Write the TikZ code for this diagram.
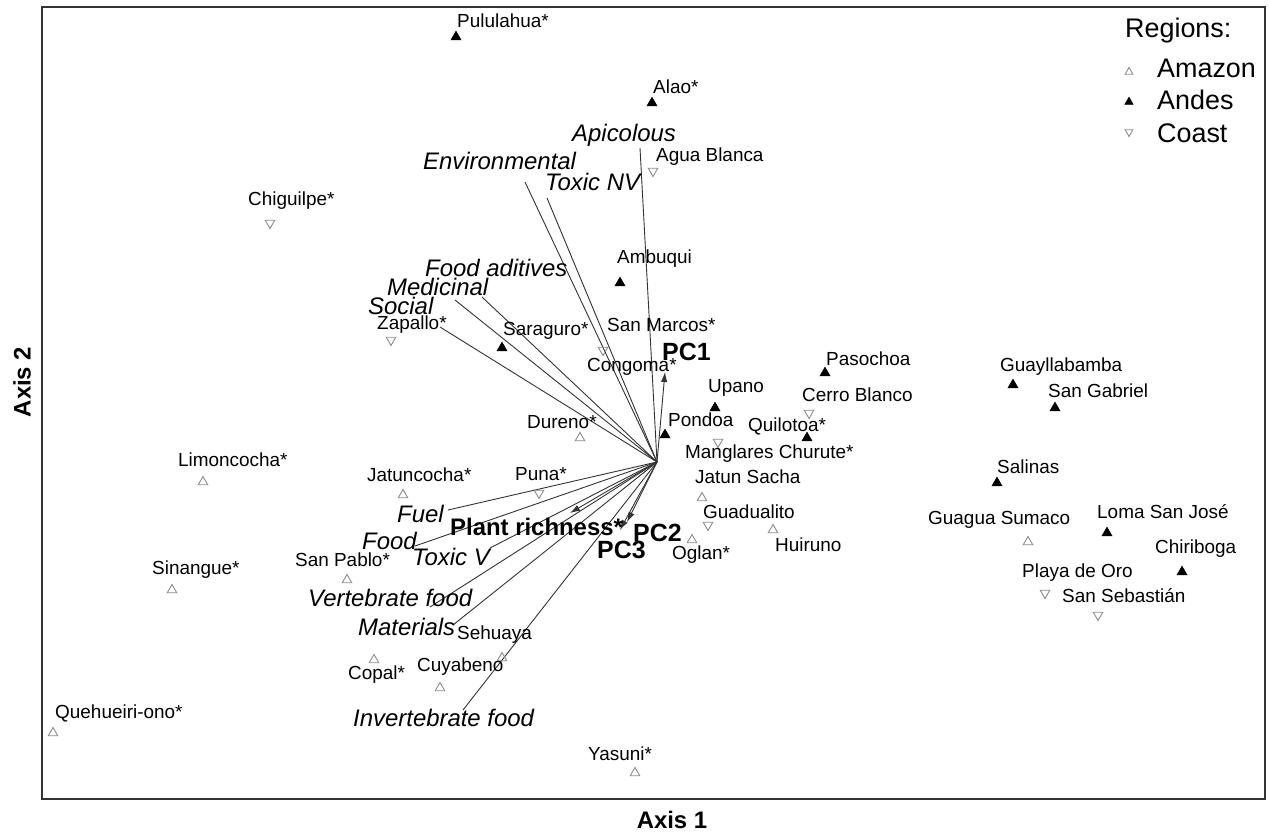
\documentclass[tikz,border=0pt]{standalone}
\usepackage{fontspec}
\setmainfont{Liberation Sans}
\usetikzlibrary{shapes.geometric,arrows.meta}
\tikzset{
    amazon/.style={regular polygon, regular polygon sides=3, draw=black!45, line width=0.9bp, minimum size=11bp, inner sep=0pt},
    andes/.style={amazon, draw=black, fill=black},
    coast/.style={amazon, shape border rotate=180},
    site/.style={anchor=west, inner sep=0pt, font=\fontsize{19}{19}\selectfont},
    var/.style={anchor=west, inner sep=0pt, font=\fontsize{24}{24}\selectfont\itshape},
    pcl/.style={anchor=west, inner sep=0pt, font=\fontsize{25}{25}\selectfont\bfseries},
    load/.style={draw=black!80, line width=0.9bp},
    vec/.style={load, -{Latex[length=10bp,width=6.5bp]}},
    axl/.style={font=\fontsize{24}{24}\selectfont\bfseries},
    leg/.style={anchor=west, inner sep=0pt, font=\fontsize{27}{27}\selectfont}
}

\begin{document}
\begin{tikzpicture}[x=1bp, y=-1bp]
  \useasboundingbox (0,0) rectangle (1270,835);
  \draw[line width=2bp, black!80] (42,7) rectangle (1265,799);

  % loadings
  \coordinate (o) at (657,462);
  \coordinate (env) at (525,182);
  \coordinate (toxnv) at (547,198);
  \coordinate (apic) at (640,148);
  \coordinate (foodad) at (482,297);
  \coordinate (medic) at (455,300);
  \coordinate (social) at (440,327);
  \coordinate (fuel) at (448,510);
  \coordinate (food) at (415,546);
  \coordinate (toxv) at (490,548);
  \coordinate (vertf) at (430,607);
  \coordinate (mater) at (453,625);
  \coordinate (invf) at (463,710);
  \foreach \v in {env,toxnv,apic,foodad,medic,social,fuel,food,toxv,vertf,mater,invf}
    \draw[load] (o) -- (\v);

  \coordinate (pc1) at (665,372);
  \coordinate (prich) at (570,513);
  \coordinate (pc2) at (627,522);
  \coordinate (pc3) at (620,530);
  \foreach \v in {pc1,prich,pc2,pc3}
    \draw[vec] (o) -- (\v);

  \node[var] (env-l) at (423,161) {Environmental};
  \node[var] (toxnv-l) at (545,182) {Toxic NV};
  \node[var] (apic-l) at (572,135) {Apicolous};
  \node[var] (foodad-l) at (425,268) {Food aditives};
  \node[var] (medic-l) at (387,287) {Medicinal};
  \node[var] (social-l) at (368,306) {Social};
  \node[var] (fuel-l) at (397,514) {Fuel};
  \node[var] (food-l) at (362,541) {Food};
  \node[var] (toxv-l) at (412,557) {Toxic V};
  \node[var] (vertf-l) at (308,598) {Vertebrate food};
  \node[var] (mater-l) at (358,627) {Materials};
  \node[var] (invf-l) at (353,718) {Invertebrate food};

  \node[pcl] (pc1-l) at (662,352) {PC1};
  \node[pcl] (pc2-l) at (633,533) {PC2};
  \node[pcl] (pc3-l) at (597,550) {PC3};
  \node[pcl, font=\fontsize{24}{24}\selectfont\bfseries] (prich-l) at (450,527) {Plant richness*};

  % sites
  \node[andes] (pulu) at (456,37) {};
  \node[site] (pulu-l) at (457,21) {Pululahua*};
  \node[andes] (alao) at (652,103) {};
  \node[site] (alao-l) at (653,87) {Alao*};
  \node[coast] (agua) at (653,171) {};
  \node[site] (agua-l) at (656,157) {Agua Blanca};
  \node[coast] (chig) at (270,223) {};
  \node[site] (chig-l) at (248,201) {Chiguilpe*};
  \node[andes] (ambu) at (620,283) {};
  \node[site] (ambu-l) at (617,259) {Ambuqui};
  \node[coast] (zapa) at (391,340) {};
  \node[site] (zapa-l) at (377,325) {Zapallo*};
  \node[andes] (sara) at (502,348) {};
  \node[site] (sara-l) at (503,331) {Saraguro*};
  \node[coast] (smar) at (603,350) {};
  \node[site] (smar-l) at (607,325) {San Marcos*};
  \node[site] (cong-l) at (587,367) {Congoma*};
  \node[andes] (upan) at (715,408) {};
  \node[site] (upan-l) at (708,388) {Upano};
  \node[andes] (pond) at (665,435) {};
  \node[site] (pond-l) at (668,420) {Pondoa};
  \node[andes] (paso) at (825,373) {};
  \node[site] (paso-l) at (826,359) {Pasochoa};
  \node[coast] (cerr) at (809,413) {};
  \node[site] (cerr-l) at (802,395) {Cerro Blanco};
  \node[andes] (quil) at (807,438) {};
  \node[site] (quil-l) at (748,426) {Quilotoa*};
  \node[coast] (mang) at (718,442) {};
  \node[site] (mang-l) at (685,454) {Manglares Churute*};
  \node[amazon] (jatu) at (702,498) {};
  \node[site] (jatu-l) at (695,477) {Jatun Sacha};
  \node[coast] (guad) at (708,525) {};
  \node[site] (guad-l) at (703,512) {Guadualito};
  \node[amazon] (huir) at (773,530) {};
  \node[site] (huir-l) at (775,545) {Huiruno};
  \node[amazon] (ogla) at (692,540) {};
  \node[site] (ogla-l) at (672,555) {Oglan*};
  \node[andes] (guay) at (1013,385) {};
  \node[site] (guay-l) at (1000,367) {Guayllabamba};
  \node[andes] (sgab) at (1055,408) {};
  \node[site] (sgab-l) at (1048,391) {San Gabriel};
  \node[andes] (sali) at (997,483) {};
  \node[site] (sali-l) at (997,467) {Salinas};
  \node[amazon] (guag) at (1028,542) {};
  \node[site] (guag-l) at (928,520) {Guagua Sumaco};
  \node[andes] (loma) at (1107,533) {};
  \node[site] (loma-l) at (1097,512) {Loma San José};
  \node[andes] (chir) at (1182,572) {};
  \node[site] (chir-l) at (1155,549) {Chiriboga};
  \node[coast] (play) at (1045,593) {};
  \node[site] (play-l) at (1022,573) {Playa de Oro};
  \node[coast] (sseb) at (1098,615) {};
  \node[site] (sseb-l) at (1062,596) {San Sebastián};
  \node[amazon] (limo) at (203,482) {};
  \node[site] (limo-l) at (178,460) {Limoncocha*};
  \node[amazon] (sina) at (172,590) {};
  \node[site] (sina-l) at (152,570) {Sinangue*};
  \node[amazon] (spab) at (347,580) {};
  \node[site] (spab-l) at (295,560) {San Pablo*};
  \node[amazon] (copa) at (374,660) {};
  \node[site] (copa-l) at (348,675) {Copal*};
  \node[amazon] (queh) at (53,733) {};
  \node[site] (queh-l) at (55,713) {Quehueiri-ono*};
  \node[amazon] (jtco) at (403,495) {};
  \node[site] (jtco-l) at (367,475) {Jatuncocha*};
  \node[coast] (puna) at (539,493) {};
  \node[site] (puna-l) at (515,474) {Puna*};
  \node[amazon] (dure) at (580,438) {};
  \node[site] (dure-l) at (527,422) {Dureno*};
  \node[amazon] (sehu) at (502,658) {};
  \node[site] (sehu-l) at (457,635) {Sehuaya};
  \node[amazon] (cuya) at (440,688) {};
  \node[site] (cuya-l) at (417,667) {Cuyabeno};
  \node[amazon] (yasu) at (635,773) {};
  \node[site] (yasu-l) at (588,754) {Yasuni*};

  % legend
  \node[leg] (reg) at (1125,31) {Regions:};
  \node[amazon, minimum size=9bp] (leg-am) at (1129,72) {};
  \node[leg] (leg-am-l) at (1157,68) {Amazon};
  \node[andes, minimum size=9bp] (leg-an) at (1129,102) {};
  \node[leg] (leg-an-l) at (1157,100) {Andes};
  \node[coast, minimum size=9bp] (leg-co) at (1129,132) {};
  \node[leg] (leg-co-l) at (1157,133) {Coast};

  % axes
  \node[axl] (ax1) at (672,820) {Axis 1};
  \node[axl, rotate=90] (ax2) at (22,382) {Axis 2};
\end{tikzpicture}
\end{document}
